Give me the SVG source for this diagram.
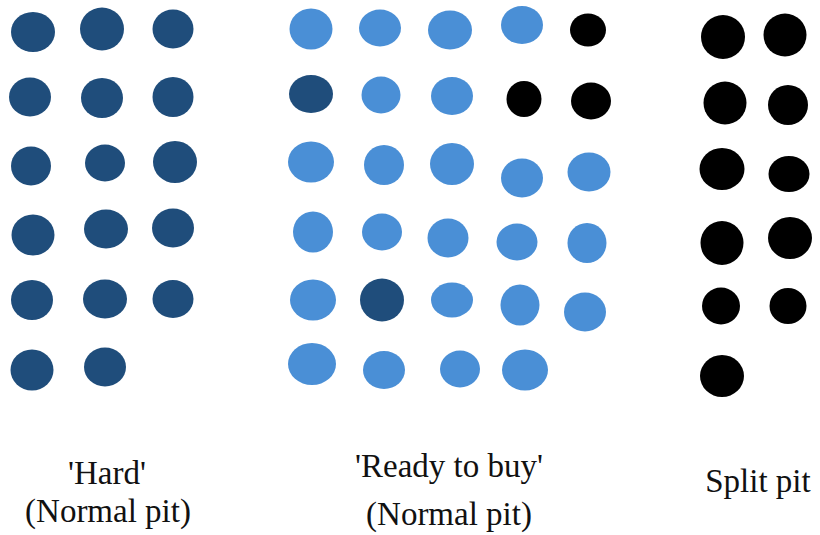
<svg xmlns="http://www.w3.org/2000/svg" width="820" height="535" viewBox="0 0 820 535">
<style>
.d{fill:#1f4d7b}
.l{fill:#4a8fd6}
.k{fill:#000}
.t{font-family:'Liberation Serif','Times New Roman',Times,Tinos,'Noto Serif','DejaVu Serif',serif;font-size:33px;fill:#111;text-anchor:middle}
</style>
<rect width="820" height="535" fill="#fff"/>
<g id="hard">
<ellipse class="d" cx="33" cy="32" rx="22" ry="20"/>
<ellipse class="d" cx="102" cy="29" rx="22" ry="21.5"/>
<ellipse class="d" cx="173" cy="29" rx="20.5" ry="19.5"/>
<ellipse class="d" cx="30" cy="97" rx="21" ry="19.5"/>
<ellipse class="d" cx="102" cy="98" rx="21" ry="20"/>
<ellipse class="d" cx="173" cy="97" rx="20.5" ry="20"/>
<ellipse class="d" cx="31" cy="166" rx="20" ry="19.5"/>
<ellipse class="d" cx="105" cy="163" rx="20" ry="18.5"/>
<ellipse class="d" cx="175" cy="162" rx="22" ry="21"/>
<ellipse class="d" cx="33" cy="235" rx="21.5" ry="20.5"/>
<ellipse class="d" cx="106" cy="229" rx="22" ry="19.5"/>
<ellipse class="d" cx="173" cy="228" rx="21" ry="19.5"/>
<ellipse class="d" cx="32" cy="300" rx="21" ry="20"/>
<ellipse class="d" cx="105" cy="299" rx="22" ry="19.5"/>
<ellipse class="d" cx="173" cy="299" rx="20.5" ry="19"/>
<ellipse class="d" cx="32" cy="370" rx="21.5" ry="20.5"/>
<ellipse class="d" cx="105" cy="367" rx="21" ry="19.5"/>
</g>
<g id="ready">
<ellipse class="l" cx="311" cy="29" rx="21.5" ry="20.5"/>
<ellipse class="l" cx="380" cy="28" rx="21" ry="18.5"/>
<ellipse class="l" cx="450" cy="30" rx="22" ry="19.5"/>
<ellipse class="l" cx="522" cy="25" rx="21" ry="19"/>
<ellipse class="k" cx="588" cy="30" rx="18" ry="16.5"/>
<ellipse class="d" cx="311" cy="94" rx="22" ry="19"/>
<ellipse class="l" cx="381" cy="95" rx="19.5" ry="18.5"/>
<ellipse class="l" cx="452" cy="96" rx="21" ry="19"/>
<ellipse class="k" cx="524" cy="99" rx="17.5" ry="18"/>
<ellipse class="k" cx="591" cy="101" rx="20" ry="18.5"/>
<ellipse class="l" cx="311" cy="162" rx="23" ry="20.5"/>
<ellipse class="l" cx="384" cy="165" rx="20" ry="20"/>
<ellipse class="l" cx="452" cy="164" rx="22" ry="21"/>
<ellipse class="l" cx="522" cy="178" rx="21" ry="19.5"/>
<ellipse class="l" cx="589" cy="172" rx="21.5" ry="19.5"/>
<ellipse class="l" cx="313" cy="232" rx="20" ry="20.5"/>
<ellipse class="l" cx="382" cy="232" rx="20" ry="18.5"/>
<ellipse class="l" cx="448" cy="238" rx="20.5" ry="19.5"/>
<ellipse class="l" cx="517" cy="242" rx="20.5" ry="18.5"/>
<ellipse class="l" cx="587" cy="243" rx="19.5" ry="20"/>
<ellipse class="l" cx="313" cy="300" rx="23" ry="20.5"/>
<ellipse class="d" cx="382" cy="300" rx="22" ry="21.5"/>
<ellipse class="l" cx="452" cy="300" rx="21" ry="17.5"/>
<ellipse class="l" cx="520" cy="305" rx="19.5" ry="20.5"/>
<ellipse class="l" cx="585" cy="312" rx="21" ry="19.5"/>
<ellipse class="l" cx="312" cy="364" rx="24" ry="21"/>
<ellipse class="l" cx="384" cy="370" rx="21" ry="19"/>
<ellipse class="l" cx="460" cy="369" rx="20" ry="18.5"/>
<ellipse class="l" cx="525" cy="370" rx="23" ry="20.5"/>
</g>
<g id="split">
<ellipse class="k" cx="723" cy="37" rx="22" ry="22"/>
<ellipse class="k" cx="785" cy="35" rx="21.5" ry="21.5"/>
<ellipse class="k" cx="725" cy="103" rx="21.5" ry="21.5"/>
<ellipse class="k" cx="788" cy="105" rx="20" ry="20"/>
<ellipse class="k" cx="722" cy="169" rx="22.5" ry="21"/>
<ellipse class="k" cx="789" cy="174" rx="20.5" ry="18"/>
<ellipse class="k" cx="722" cy="243" rx="21.5" ry="22"/>
<ellipse class="k" cx="790" cy="238" rx="22" ry="21"/>
<ellipse class="k" cx="721" cy="306" rx="19" ry="18.5"/>
<ellipse class="k" cx="788" cy="306" rx="18.5" ry="18"/>
<ellipse class="k" cx="722" cy="376" rx="22" ry="21"/>
</g>
<g id="labels">
<text class="t" x="107" y="484">'Hard'</text>
<text class="t" x="108" y="522">(Normal pit)</text>
<text class="t" x="449" y="477">'Ready to buy'</text>
<text class="t" x="449" y="525">(Normal pit)</text>
<text class="t" x="758" y="492">Split pit</text>
</g>
</svg>
